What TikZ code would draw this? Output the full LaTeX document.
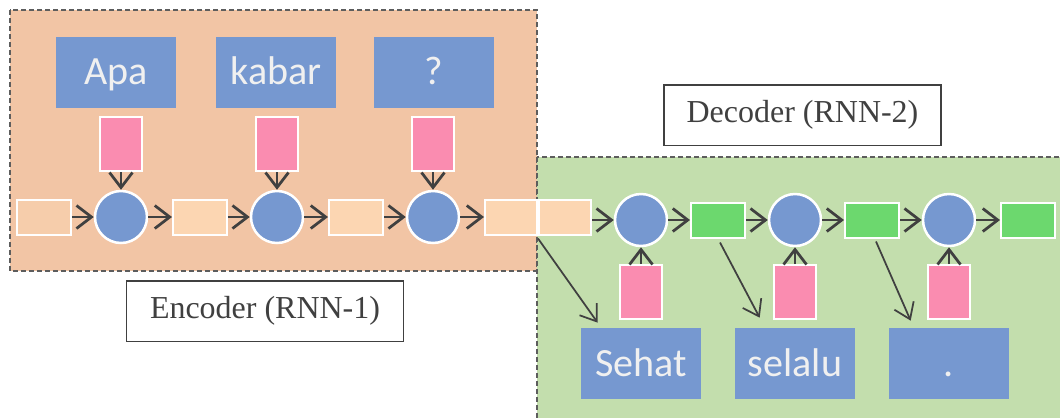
\documentclass[tikz,border=0pt]{standalone}
\usepackage{fontspec}
\setmainfont{Liberation Serif}
\newfontfamily\wordfont{Carlito}
\definecolor{encfill}{RGB}{242,197,165}
\definecolor{decfill}{RGB}{195,222,173}
\definecolor{cellblue}{RGB}{118,152,208}
\definecolor{embpink}{RGB}{250,140,176}
\definecolor{statepeach}{RGB}{252,214,178}
\definecolor{stategreen}{RGB}{108,216,110}
\definecolor{ink}{RGB}{64,64,64}
\usetikzlibrary{arrows.meta,calc}

\begin{document}
\begin{tikzpicture}[x=0.02cm,y=-0.02cm,
    region/.style={draw=ink!85,line width=0.022cm,dash pattern=on 0.1cm off 0.06cm},
    tag/.style={draw=ink,line width=0.03cm,fill=white,text=ink,minimum width=5.55cm,minimum height=1.21cm,font=\fontsize{18.2}{22}\selectfont},
    word/.style={fill=cellblue,text=white!94!black,minimum width=2.4cm,minimum height=1.42cm,inner sep=0pt,text height=0.6cm,text depth=0.1cm,font=\wordfont\fontsize{22.8}{27}\selectfont},
    cell/.style={circle,fill=cellblue,draw=white,line width=0.05cm,minimum size=1.04cm,inner sep=0pt},
    embed/.style={fill=embpink,draw=white,line width=0.04cm,minimum width=0.84cm,minimum height=1.08cm,inner sep=0pt},
    state/.style={fill=statepeach,draw=white,line width=0.04cm,minimum width=1.08cm,minimum height=0.7cm,inner sep=0pt},
    flow/.style={ink,line width=0.055cm,-{Straight Barb[length=0.3cm,width=0.46cm]}},
    pointer/.style={ink,line width=0.035cm,-{Straight Barb[length=0.3cm,width=0.42cm]}}]
  \useasboundingbox (0,0) rectangle (1060,417);
  \draw[region,fill=encfill] (10,10) rectangle (537,271);
  \draw[region,fill=decfill] (537,157) rectangle (1066,425);
  \node[tag] (enc) at (265,311) {Encoder (RNN-1)};
  \node[tag] (dec) at (802.5,115) {Decoder (RNN-2)};
  \foreach \w/\x/\y [count=\i] in {Apa/116/121,kabar/276/277,?/434/433} {
    \node[word] (w\i) at (\x,72) {\w};
    \node[embed] (e\i) at (\y,144) {};
    \node[cell] (c\i) at (\y,217) {};
    \draw[flow] (e\i) -- (c\i);
  }
  \node[state,fill=statepeach!45!encfill] (s0) at (44,217) {};
  \node[state] (s1) at (200,217) {};
  \node[state] (s2) at (356,217) {};
  \node[state,minimum width=1.04cm] (s3) at (511,217) {};
  \node[state,minimum width=1.04cm] (d0) at (565,217) {};
  \draw[flow] (s0) -- (c1);
  \draw[flow] (c1) -- (s1);
  \draw[flow] (s1) -- (c2);
  \draw[flow] (c2) -- (s2);
  \draw[flow] (s2) -- (c3);
  \draw[flow] (c3) -- (s3);
  \foreach \w/\x [count=\i] in {Sehat/641,selalu/795,./949} {
    \node[cell] (k\i) at (\x,220) {};
    \node[embed] (f\i) at (\x,292) {};
    \node[word] (o\i) at (\x,363.5) {\w};
    \draw[flow] (f\i) -- (k\i);
  }
  \foreach \x [count=\i] in {718,872,1028} \node[state,fill=stategreen] (g\i) at (\x,220) {};
  \draw[flow] (d0.east |- k1) -- (k1);
  \draw[flow] (k1) -- (g1);
  \draw[flow] (g1) -- (k2);
  \draw[flow] (k2) -- (g2);
  \draw[flow] (g2) -- (k3);
  \draw[flow] (k3) -- (g3);
  \draw[pointer] ($(s3.south east)+(0,3)$) -- ($(o1.north west)+(17,-5)$);
  \draw[pointer] ($(g1.south)+(2,4)$) -- ($(o2.north west)+(25,-10)$);
  \draw[pointer] ($(g2.south)+(4,3)$) -- ($(o3.north west)+(22,-7)$);
\end{tikzpicture}
\end{document}
